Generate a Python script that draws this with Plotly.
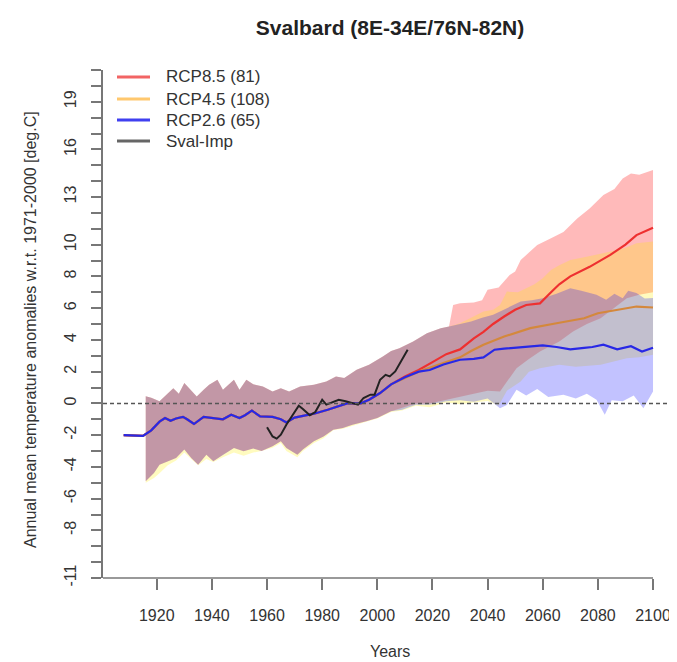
import plotly.graph_objects as go

# Historical ensemble envelope (shared by the three scenarios)
hist_hi_years = [1916, 1918, 1921, 1923.5, 1926, 1928, 1930, 1932, 1934.5, 1937, 1939, 1942, 1944, 1946,
                 1948, 1950, 1952.5, 1955, 1958.5, 1962, 1965, 1968, 1972, 1977, 1981.5, 1985, 1988,
                 1992.5, 1997, 2002, 2005]
hist_hi = [0.45, 0.35, 0.13, 0.55, 0.96, 0.6, 1.28, 0.9, 0.44, 0.86, 1.17, 1.49, 0.86, 1.17,
           1.49, 0.86, 1.49, 1.2, 1.07, 0.75, 0.96, 0.75, 1.07, 1.17, 1.38, 1.7, 1.6,
           2.12, 2.43, 2.96, 3.3]
hist_lo_years = [1916, 1919, 1921, 1924, 1927, 1930, 1932.5, 1935, 1938, 1940.5, 1944, 1948, 1951.5,
                 1955, 1958, 1962, 1965, 1967, 1971, 1973, 1977, 1980.5, 1984, 1987.5, 1991, 1996,
                 2000, 2005]
hist_lo = [-4.9, -4.38, -3.86, -3.65, -3.44, -2.91, -3.44, -3.86, -3.23, -3.65, -3.23, -2.81, -3.02,
           -2.85, -3.0, -2.7, -2.39, -2.81, -3.23, -2.9, -2.39, -2.08, -1.66, -1.55, -1.34, -1.13,
           -0.92, -0.5]
hist_lo_45 = [-5.0, -4.7, -4.4, -3.9, -3.6, -3.1, -3.5, -3.9, -3.5, -3.7, -3.4, -3.1, -3.3,
              -3.1, -3.0, -2.8, -2.5, -3.0, -3.4, -3.0, -2.5, -2.2, -1.7, -1.6, -1.4, -1.15,
              -0.95, -0.55]

# Scenario envelopes
rcp85_hi_years = [2008, 2013, 2018, 2023, 2026, 2027.5, 2030, 2035, 2038, 2040, 2044, 2048, 2050, 2052,
                  2055, 2058, 2063, 2067.5, 2072.5, 2077, 2082, 2086, 2089, 2092, 2095, 2100]
rcp85_hi = [3.48, 3.9, 4.42, 4.74, 4.84, 6.2, 6.3, 6.35, 6.5, 7.15, 7.3, 8.09, 8.3, 9.03,
            9.5, 9.97, 10.4, 10.8, 11.65, 12.28, 13.12, 13.5, 14.17, 14.48, 14.4, 14.7]
rcp85_lo_years = [2009, 2014, 2019, 2025, 2030, 2035, 2040, 2044.5, 2050.5, 2055, 2059, 2066, 2071,
                  2076, 2081, 2085, 2090.5, 2095, 2100]
rcp85_lo = [-0.3, 0.0, 0.0, 0.2, 0.4, 0.6, 0.8, 0.75, 2.22, 2.8, 3.27, 3.9, 4.53,
            5.0, 5.36, 5.9, 6.62, 6.84, 7.0]

rcp45_hi_years = [2008, 2013, 2018, 2023, 2026, 2030, 2034, 2038.5, 2042, 2044.5, 2047, 2051, 2054,
                  2057, 2060, 2063, 2066, 2070, 2075, 2079.5, 2083, 2087, 2090, 2094, 2100]
rcp45_hi = [3.48, 3.9, 4.42, 4.74, 4.84, 5.05, 5.4, 5.79, 5.9, 6.2, 7.04, 7.0, 7.25,
            7.5, 7.88, 8.4, 8.7, 9.03, 9.2, 9.35, 9.5, 9.66, 9.8, 10.08, 10.19]
rcp45_lo_years = [2009, 2014, 2019, 2025, 2030, 2035, 2040, 2044, 2047, 2052, 2055, 2059, 2066,
                  2072, 2081, 2085, 2090.5, 2095, 2100]
rcp45_lo = [-0.45, -0.15, -0.25, 0.05, -0.05, 0.05, 0.15, -0.15, 0.8, 1.38, 2.0, 2.22, 2.43,
            2.3, 2.43, 2.6, 2.85, 2.9, 3.06]

rcp26_hi_years = [2008, 2013, 2018, 2023, 2026, 2030, 2034, 2038, 2042, 2047, 2052, 2056, 2060,
                  2065, 2070, 2074, 2079.5, 2083, 2086, 2089, 2091, 2094, 2097, 2100]
rcp26_hi = [3.48, 3.9, 4.42, 4.74, 4.84, 5.0, 5.16, 5.4, 5.58, 6.0, 6.42, 6.5, 6.62,
            6.9, 7.25, 7.1, 6.84, 6.52, 6.9, 6.62, 7.1, 6.96, 6.6, 6.63]
rcp26_lo_years = [2009, 2014, 2019, 2025, 2030, 2035, 2040, 2044.5, 2047, 2050.5, 2054, 2058, 2062,
                  2067.5, 2072, 2076, 2079.5, 2082.5, 2085, 2089, 2093, 2096.5, 2100]
rcp26_lo = [-0.4, -0.08, -0.08, 0.13, 0.2, 0.1, 0.3, -0.3, -0.1, 0.86, 0.5, 0.9, 0.4,
            0.55, 0.3, 0.6, 0.23, -0.71, 0.2, 0.13, 0.5, -0.3, 0.75]

# Ensemble medians
hist_med_years = [1908, 1912, 1915, 1918, 1921, 1923, 1925, 1927, 1929.5, 1931, 1933.5, 1937, 1940,
                  1942, 1944, 1947, 1950, 1952, 1954.5, 1957.5, 1962, 1965, 1967, 1970, 1972, 1977,
                  1982, 1985, 1989, 1994, 1997, 2001, 2005]
hist_med = [-2.0, -2.05, -2.05, -1.7, -1.15, -0.92, -1.1, -0.95, -0.85, -1.0, -1.3, -0.85, -0.9,
            -0.92, -1.0, -0.72, -0.92, -0.75, -0.46, -0.82, -0.85, -1.0, -1.2, -0.9, -0.82, -0.65,
            -0.4, -0.25, 0.0, 0.0, 0.23, 0.65, 1.2]
rcp85_med_years = [2005, 2010, 2015, 2020, 2025, 2030, 2035, 2038.5, 2042, 2046, 2050, 2054, 2059,
                   2063, 2066, 2070, 2077, 2084.5, 2090, 2094, 2100]
rcp85_med = [1.2, 1.7, 2.1, 2.6, 3.1, 3.4, 4.1, 4.5, 5.0, 5.47, 5.9, 6.2, 6.3,
             7.0, 7.5, 8.0, 8.6, 9.35, 10.0, 10.6, 11.07]
rcp45_med_years = [2005, 2010, 2015, 2020, 2026, 2030, 2034, 2038.5, 2046, 2050, 2055.5, 2065, 2075,
                   2080, 2087, 2094, 2100]
rcp45_med = [1.2, 1.6, 2.0, 2.3, 2.64, 2.9, 3.3, 3.69, 4.21, 4.45, 4.74, 5.05, 5.36,
             5.68, 5.89, 6.1, 6.04]
rcp26_med_years = [2005, 2010, 2015, 2019, 2024, 2030, 2035, 2038.5, 2042.5, 2046, 2050.5, 2055, 2060,
                   2065, 2070, 2075, 2078, 2082, 2087, 2092, 2096, 2100]
rcp26_med = [1.2, 1.65, 2.0, 2.1, 2.45, 2.75, 2.8, 2.9, 3.38, 3.45, 3.5, 3.55, 3.65,
             3.55, 3.4, 3.5, 3.55, 3.7, 3.4, 3.6, 3.27, 3.5]

# Observations (Sval-Imp)
obs_years = [1960, 1962, 1963.5, 1965, 1967, 1969.5, 1971.5, 1973, 1975.5, 1977.5, 1980, 1981.5, 1983.5,
             1986, 1988.5, 1991, 1993, 1995, 1997.5, 1999, 2001, 2003, 2004.5, 2006.5, 2008.5, 2010, 2011]
obs = [-1.5, -2.08, -2.22, -1.97, -1.34, -0.65, -0.15, -0.35, -0.75, -0.55, 0.23, -0.08, 0.05,
       0.23, 0.13, 0.02, -0.08, 0.34, 0.55, 0.55, 1.49, 1.8, 1.7, 2.01, 2.64, 3.16, 3.38]

x_ticks = [1920, 1940, 1960, 1980, 2000, 2020, 2040, 2060, 2080, 2100]
y_labels = [-11, -8, -6, -4, -2, 0, 2, 4, 6, 8, 10, 13, 16, 19]
legend_names = ["RCP8.5 (81)", "RCP4.5 (108)", "RCP2.6 (65)", "Sval-Imp"]
legend_colors = ["#F26464", "#FFC86E", "#4040F0", "#666666"]

FONT = "Liberation Sans, Arial, sans-serif"
# the page has an 8px body margin, so the figure is 8px smaller than the window
OFF = 8
W, H = 677 - OFF, 662 - OFF
L, R, T, B = 103 - OFF, 0, 70 - OFF, 84
X0 = 1900.5
X1 = X0 + (W - L - R) / 2.757
plot_w = W - L - R
plot_h = H - T - B


def band(hi_years, hi, lo_years, lo):
    xs = list(hi_years) + list(reversed(lo_years))
    ys = list(hi) + list(reversed(lo))
    return xs, ys


def px_to_paper(px, py):
    # reference window pixels -> paper coordinates
    return (px - OFF - L) / plot_w, (T + plot_h - (py - OFF)) / plot_h


fig = go.Figure()

# Bands: red, orange, blue (drawn in this order so they overlap as in R)
bands = [
    (rcp85_hi_years, rcp85_hi, rcp85_lo_years, rcp85_lo, hist_lo, "rgba(255,0,0,0.27)"),
    (rcp45_hi_years, rcp45_hi, rcp45_lo_years, rcp45_lo, hist_lo_45, "rgba(255,240,0,0.25)"),
    (rcp26_hi_years, rcp26_hi, rcp26_lo_years, rcp26_lo, hist_lo, "rgba(0,0,255,0.24)"),
]
for hy, hv, ly, lv, hlo, col in bands:
    xs, ys = band(hist_hi_years + hy, hist_hi + hv, hist_lo_years + ly, hlo + lv)
    fig.add_trace(go.Scatter(x=xs, y=ys, fill="toself", fillcolor=col, mode="lines",
                             line=dict(width=0), hoverinfo="skip", showlegend=False))

# Medians
medians = [
    (rcp85_med_years, rcp85_med, "#EE3030"),
    (rcp45_med_years, rcp45_med, "#D4883C"),
    (rcp26_med_years, rcp26_med, "#2828E6"),
]
for yrs, vals, col in medians:
    fig.add_trace(go.Scatter(x=hist_med_years + yrs, y=hist_med + vals, mode="lines",
                             line=dict(color=col, width=2.2), showlegend=False))

fig.add_trace(go.Scatter(x=obs_years, y=obs, mode="lines",
                         line=dict(color="#222222", width=2), showlegend=False))

# Bottom axis line (stops at 2100) and dashed zero line
fig.add_shape(type="line", xref="x", yref="paper", x0=X0, x1=2100, y0=0, y1=0,
              line=dict(color="#777777", width=1.5))
fig.add_shape(type="line", xref="paper", yref="y", x0=0, x1=1, y0=0, y1=0,
              line=dict(color="#555555", width=1.5, dash="4px,3px"))

# Legend drawn by hand (R style)
legend_y = [77, 99, 120, 141]
for name, col, py in zip(legend_names, legend_colors, legend_y):
    xa, yp = px_to_paper(117, py)
    xb, _ = px_to_paper(150, py)
    xt, _ = px_to_paper(164, py)
    fig.add_shape(type="line", xref="paper", yref="paper", x0=xa, x1=xb, y0=yp, y1=yp,
                  line=dict(color=col, width=3))
    fig.add_annotation(x=xt, y=yp, xref="paper", yref="paper", text=name,
                       showarrow=False, xanchor="left", yanchor="middle",
                       font=dict(family=FONT, size=17, color="#333333"))

# Axis titles
_, ytitle_y = px_to_paper(0, 330)
fig.add_annotation(x=0, y=ytitle_y, xref="paper", yref="paper", xshift=-73,
                   text="Annual mean temperature anomalies w.r.t. 1971-2000 [deg.C]",
                   textangle=-90, showarrow=False, xanchor="center", yanchor="middle",
                   font=dict(family=FONT, size=16, color="#333333"))
fig.add_annotation(x=0.5, y=0, xref="paper", yref="paper", yshift=-73, text="Years",
                   showarrow=False, xanchor="center", yanchor="middle",
                   font=dict(family=FONT, size=16, color="#333333"))

fig.update_layout(
    width=W,
    height=H,
    margin=dict(l=L, r=R, t=T, b=B),
    plot_bgcolor="white",
    paper_bgcolor="white",
    showlegend=False,
    title=dict(text="<b>Svalbard (8E-34E/76N-82N)</b>", x=0.5, xref="paper", xanchor="center",
               y=1 - (28 - OFF) / H, yref="container", yanchor="middle",
               font=dict(family=FONT, size=21, color="#222222")),
    xaxis=dict(range=[X0, X1], showgrid=False, zeroline=False, showline=False,
               tickvals=x_ticks, ticks="outside", ticklen=11, tickwidth=1.5, tickcolor="#777777",
               ticklabelstandoff=12, tickfont=dict(family=FONT, size=16, color="#333333")),
    yaxis=dict(range=[-11, 21], showgrid=False, zeroline=False, showline=True,
               linecolor="#777777", linewidth=1.5,
               tickvals=list(range(-11, 22)),
               ticktext=[str(v) if v in y_labels else "" for v in range(-11, 22)],
               ticks="outside", ticklen=10, tickwidth=1.5, tickcolor="#777777",
               tickangle=-90, ticklabelstandoff=9,
               tickfont=dict(family=FONT, size=16, color="#333333")),
)

fig.write_html("out.html")
